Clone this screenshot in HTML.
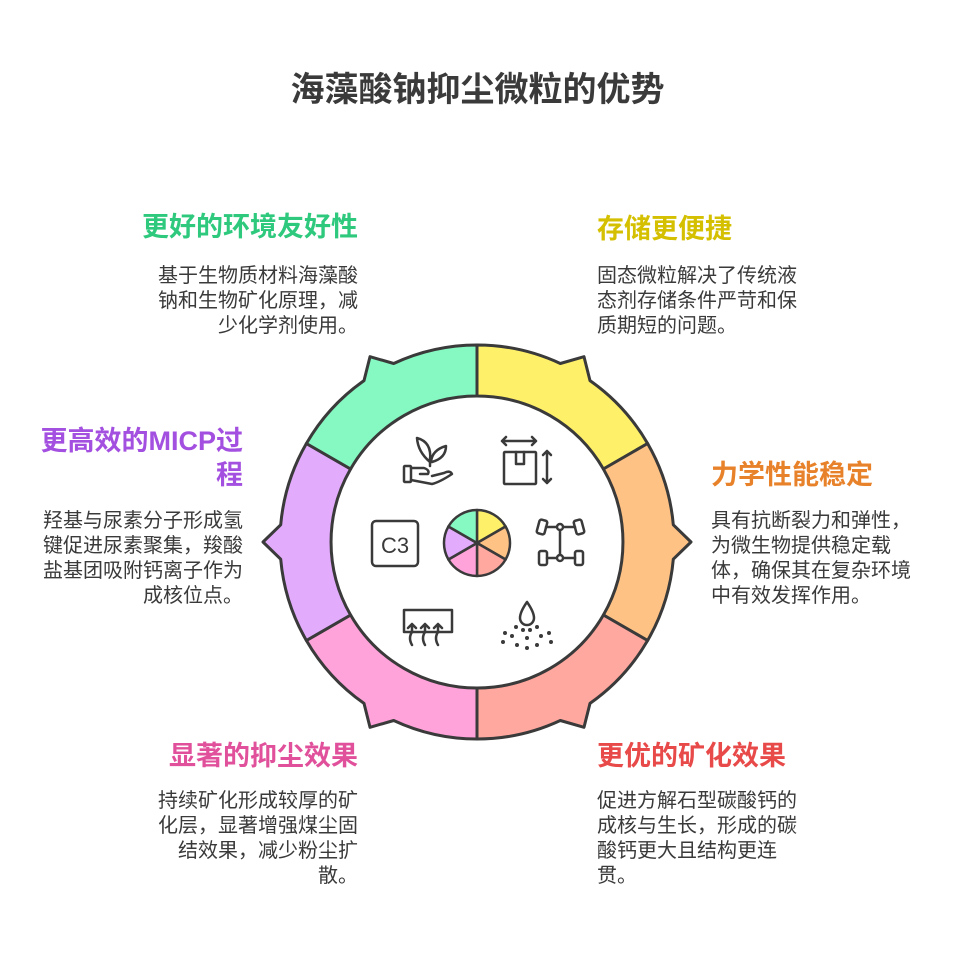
<!DOCTYPE html>
<html><head><meta charset="utf-8"><style>
body{margin:0;width:955px;height:955px;background:#fff;position:relative;overflow:hidden;font-family:"Liberation Sans","Noto Sans CJK SC",sans-serif;}
.t{position:absolute;white-space:nowrap}
.h{font-size:27px;font-weight:bold;line-height:34px}
.b{font-size:20px;line-height:25px;color:#3a3a3a}
.r{text-align:right}
</style></head><body>
<div class="t" style="left:0;width:955px;top:68px;text-align:center;font-size:34px;font-weight:bold;color:#3a3a3a;line-height:44px">海藻酸钠抑尘微粒的优势</div>

<div class="t h r" style="right:597px;top:210px;color:#2fc97e">更好的环境友好性</div>
<div class="t b r" style="right:597px;top:264px">基于生物质材料海藻酸<br>钠和生物矿化原理，减<br>少化学剂使用。</div>

<div class="t h" style="left:597px;top:212px;color:#d4c000">存储更便捷</div>
<div class="t b" style="left:597px;top:264px">固态微粒解决了传统液<br>态剂存储条件严苛和保<br>质期短的问题。</div>

<div class="t h r" style="right:712px;top:424px;color:#a34fe0">更高效的MICP过<br>程</div>
<div class="t b r" style="right:712px;top:509px">羟基与尿素分子形成氢<br>键促进尿素聚集，羧酸<br>盐基团吸附钙离子作为<br>成核位点。</div>

<div class="t h" style="left:711px;top:458px;color:#e8822a">力学性能稳定</div>
<div class="t b" style="left:711px;top:509px">具有抗断裂力和弹性，<br>为微生物提供稳定载<br>体，确保其在复杂环境<br>中有效发挥作用。</div>

<div class="t h r" style="right:597px;top:739px;color:#e0509b">显著的抑尘效果</div>
<div class="t b r" style="right:597px;top:789px">持续矿化形成较厚的矿<br>化层，显著增强煤尘固<br>结效果，减少粉尘扩<br>散。</div>

<div class="t h" style="left:597px;top:739px;color:#e84a4a">更优的矿化效果</div>
<div class="t b" style="left:597px;top:789px">促进方解石型碳酸钙的<br>成核与生长，形成的碳<br>酸钙更大且结构更连<br>贯。</div>

<svg width="955" height="955" style="position:absolute;left:0;top:0" stroke="#3a3a3a" stroke-width="3" stroke-linejoin="round" stroke-linecap="round">
<path fill="#fff06a" d="M477,345 A197,197 0 0 1 560.3,363.5 L584,356.7 L590,380.6 A197,197 0 0 1 647.6,443.5 L603.4,469 A146,146 0 0 0 477,396 Z"/>
<path fill="#ffc285" d="M647.6,443.5 A197,197 0 0 1 673.3,524.8 L691,542 L673.3,559.2 A197,197 0 0 1 647.6,640.5 L603.4,615 A146,146 0 0 0 603.4,469 Z"/>
<path fill="#ffa89f" d="M647.6,640.5 A197,197 0 0 1 590,703.4 L584,727.3 L560.3,720.5 A197,197 0 0 1 477,739 L477,688 A146,146 0 0 0 603.4,615 Z"/>
<path fill="#ffa3da" d="M477,739 A197,197 0 0 1 393.7,720.5 L370,727.3 L364,703.4 A197,197 0 0 1 306.4,640.5 L350.6,615 A146,146 0 0 0 477,688 Z"/>
<path fill="#e2abfb" d="M306.4,640.5 A197,197 0 0 1 280.7,559.2 L263,542 L280.7,524.8 A197,197 0 0 1 306.4,443.5 L350.6,469 A146,146 0 0 0 350.6,615 Z"/>
<path fill="#86f8c2" d="M306.4,443.5 A197,197 0 0 1 364,380.6 L370,356.7 L393.7,363.5 A197,197 0 0 1 477,345 L477,396 A146,146 0 0 0 350.6,469 Z"/>
<g stroke-width="2.5">
<path fill="#fff06a" d="M477,543 L477,510 A33,33 0 0 1 505.6,526.5 Z"/>
<path fill="#ffc285" d="M477,543 L505.6,526.5 A33,33 0 0 1 505.6,559.5 Z"/>
<path fill="#ffa89f" d="M477,543 L505.6,559.5 A33,33 0 0 1 477,576 Z"/>
<path fill="#ffa3da" d="M477,543 L477,576 A33,33 0 0 1 448.4,559.5 Z"/>
<path fill="#e2abfb" d="M477,543 L448.4,559.5 A33,33 0 0 1 448.4,526.5 Z"/>
<path fill="#86f8c2" d="M477,543 L448.4,526.5 A33,33 0 0 1 477,510 Z"/>
</g>
<g fill="none" stroke-width="2.5">
<rect x="404" y="466" width="7" height="16" rx="1"/>
<path d="M411,468 L424,468 Q430,470 428,474 L420,474 M411,480 L432,484 Q440,482 452,474 Q450,470 444,473 L432,476"/>
<path d="M430,462 Q418,452 417,438 Q432,442 430,460 Z M431,462 Q432,450 446,446 Q446,458 432,462 M430,466 L430,458"/>
<rect x="504" y="452" width="32" height="32" rx="1"/>
<path d="M516,452 L516,464 L524,464 L524,452"/>
<path d="M502,441 L536,441 M506,437 L502,441 L506,445 M532,437 L536,441 L532,445"/>
<path d="M547,451 L547,483 M543,455 L547,451 L551,455 M543,479 L547,483 L551,479"/>
<rect x="372" y="521" width="46" height="45" rx="4"/>
<text x="395" y="553" font-family="Liberation Sans" font-size="22" fill="#3a3a3a" stroke="none" text-anchor="middle">C3</text>
<rect x="538" y="520" width="8" height="14" rx="2" transform="rotate(15 542 527)"/>
<rect x="575" y="520" width="8" height="14" rx="2" transform="rotate(-15 579 527)"/>
<rect x="539" y="551" width="8" height="14" rx="2"/>
<rect x="575" y="551" width="8" height="14" rx="2"/>
<path d="M546,527 L575,527 M547,558 L575,558 M560,527 L560,558"/>
<circle cx="560" cy="527" r="3" fill="#fff"/><circle cx="560" cy="558" r="3" fill="#fff"/>
<rect x="404" y="610" width="48" height="22"/>
<path d="M412,645 Q408,638 412,632 L412,624 M408,628 L412,624 L416,628 M425,645 Q421,638 425,632 L425,624 M421,628 L425,624 L429,628 M438,645 Q434,638 438,632 L438,624 M434,628 L438,624 L442,628"/>
<path d="M527,602 Q520,612 520,618 A7,7 0 0 0 534,618 Q534,612 527,602 Z"/>
</g>
<g fill="#3a3a3a" stroke="none">
<circle cx="516" cy="627" r="2"/><circle cx="523" cy="630" r="2"/><circle cx="530" cy="630" r="2"/><circle cx="537" cy="627" r="2"/>
<circle cx="505" cy="633" r="2"/><circle cx="512" cy="636" r="2"/><circle cx="527" cy="638" r="2"/><circle cx="541" cy="636" r="2"/><circle cx="549" cy="633" r="2"/>
<circle cx="503" cy="642" r="2"/><circle cx="517" cy="645" r="2"/><circle cx="537" cy="645" r="2"/><circle cx="551" cy="642" r="2"/><circle cx="527" cy="648" r="2"/>
</g>
</svg>
</body></html>
